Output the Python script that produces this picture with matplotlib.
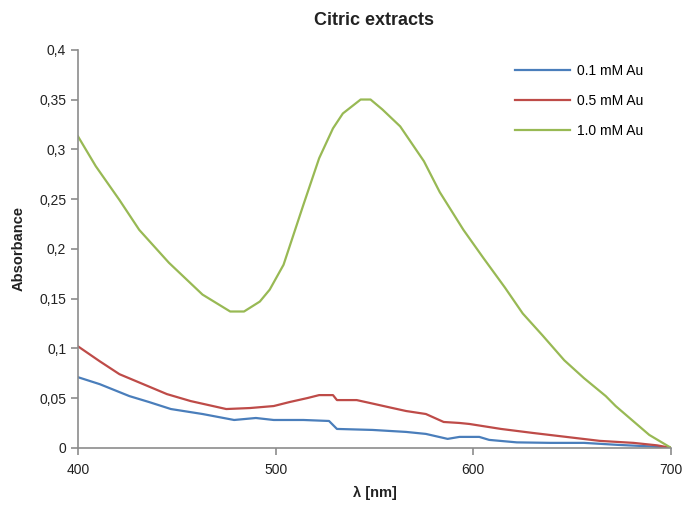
import matplotlib
matplotlib.use("Agg")
import matplotlib.pyplot as plt
from matplotlib.ticker import FuncFormatter

plt.rcParams['font.family'] = ['Liberation Sans', 'DejaVu Sans']

# Data
wl_01 = [400, 411, 426, 436, 447, 463, 479, 490, 499, 514, 527, 531, 549, 566, 576,
         587, 593, 603, 608, 622, 639, 656, 673, 689, 700]
abs_01 = [0.071, 0.064, 0.052, 0.046, 0.039, 0.034, 0.028, 0.030, 0.028, 0.028, 0.027,
          0.019, 0.018, 0.016, 0.014, 0.009, 0.011, 0.011, 0.008, 0.0055, 0.005, 0.005,
          0.003, 0.0015, 0.0]

wl_05 = [400, 411, 421, 433, 445, 457, 475, 487, 499, 507, 516, 522, 529, 531, 541, 549,
         558, 566, 576, 585, 593, 598, 614, 630, 647, 664, 681, 693, 700]
abs_05 = [0.102, 0.087, 0.074, 0.064, 0.054, 0.047, 0.039, 0.040, 0.042, 0.046, 0.050,
          0.053, 0.053, 0.048, 0.048, 0.0445, 0.0405, 0.037, 0.034, 0.026, 0.025, 0.024,
          0.019, 0.015, 0.011, 0.007, 0.005, 0.0025, 0.0]

wl_10 = [400, 409, 421, 431, 446, 463, 477, 484, 492, 497, 504, 514, 522, 529, 534, 543,
         548, 554, 563, 575, 583, 595, 605, 616, 625, 635, 646, 656, 667, 672, 689, 700]
abs_10 = [0.313, 0.283, 0.249, 0.219, 0.186, 0.154, 0.137, 0.137, 0.147, 0.159, 0.184,
          0.244, 0.291, 0.321, 0.336, 0.350, 0.350, 0.340, 0.323, 0.288, 0.257, 0.219,
          0.191, 0.161, 0.135, 0.113, 0.088, 0.070, 0.052, 0.042, 0.013, 0.0]

labels = ["0.1 mM Au", "0.5 mM Au", "1.0 mM Au"]
colors = ["#4a7ebb", "#be4b48", "#98b954"]

x_ticks = [400, 500, 600, 700]
y_ticks = [0, 0.05, 0.1, 0.15, 0.2, 0.25, 0.3, 0.35, 0.4]

fig = plt.figure(figsize=(6.84, 5.13), dpi=100)
ax = fig.add_axes([0.114, 0.127, 0.867, 0.776])

for wl, a, lab, c in zip([wl_01, wl_05, wl_10], [abs_01, abs_05, abs_10], labels, colors):
    ax.plot(wl, a, color=c, lw=1.6, label=lab)

ax.set_xlim(400, 700)
ax.set_ylim(0, 0.4)
ax.set_xticks(x_ticks)
ax.set_yticks(y_ticks)

def comma_fmt(v, pos):
    s = ("%.2f" % v).rstrip('0').rstrip('.')
    return s.replace('.', ',')

ax.yaxis.set_major_formatter(FuncFormatter(comma_fmt))

for side in ['top', 'right']:
    ax.spines[side].set_visible(False)
for side in ['left', 'bottom']:
    ax.spines[side].set_color('#8c8c8c')
    ax.spines[side].set_linewidth(1.2)
ax.tick_params(axis='both', colors='#8c8c8c', labelcolor='#222222', labelsize=10,
               direction='out', length=5, width=1.2)
ax.tick_params(axis='x', pad=6)

ax.set_title("Citric extracts", fontsize=13, fontweight='bold', color='#222222', pad=18)
ax.set_xlabel("λ [nm]", fontsize=10.5, fontweight='bold', color='#222222', labelpad=6)
ax.set_ylabel("Absorbance", fontsize=10.5, fontweight='bold', color='#222222', labelpad=10)

ax.legend(loc='upper right', bbox_to_anchor=(0.975, 0.995), frameon=False, fontsize=10,
          handlelength=4.0, labelspacing=1.15, handletextpad=0.5)

fig.savefig("out.png", dpi=100)
